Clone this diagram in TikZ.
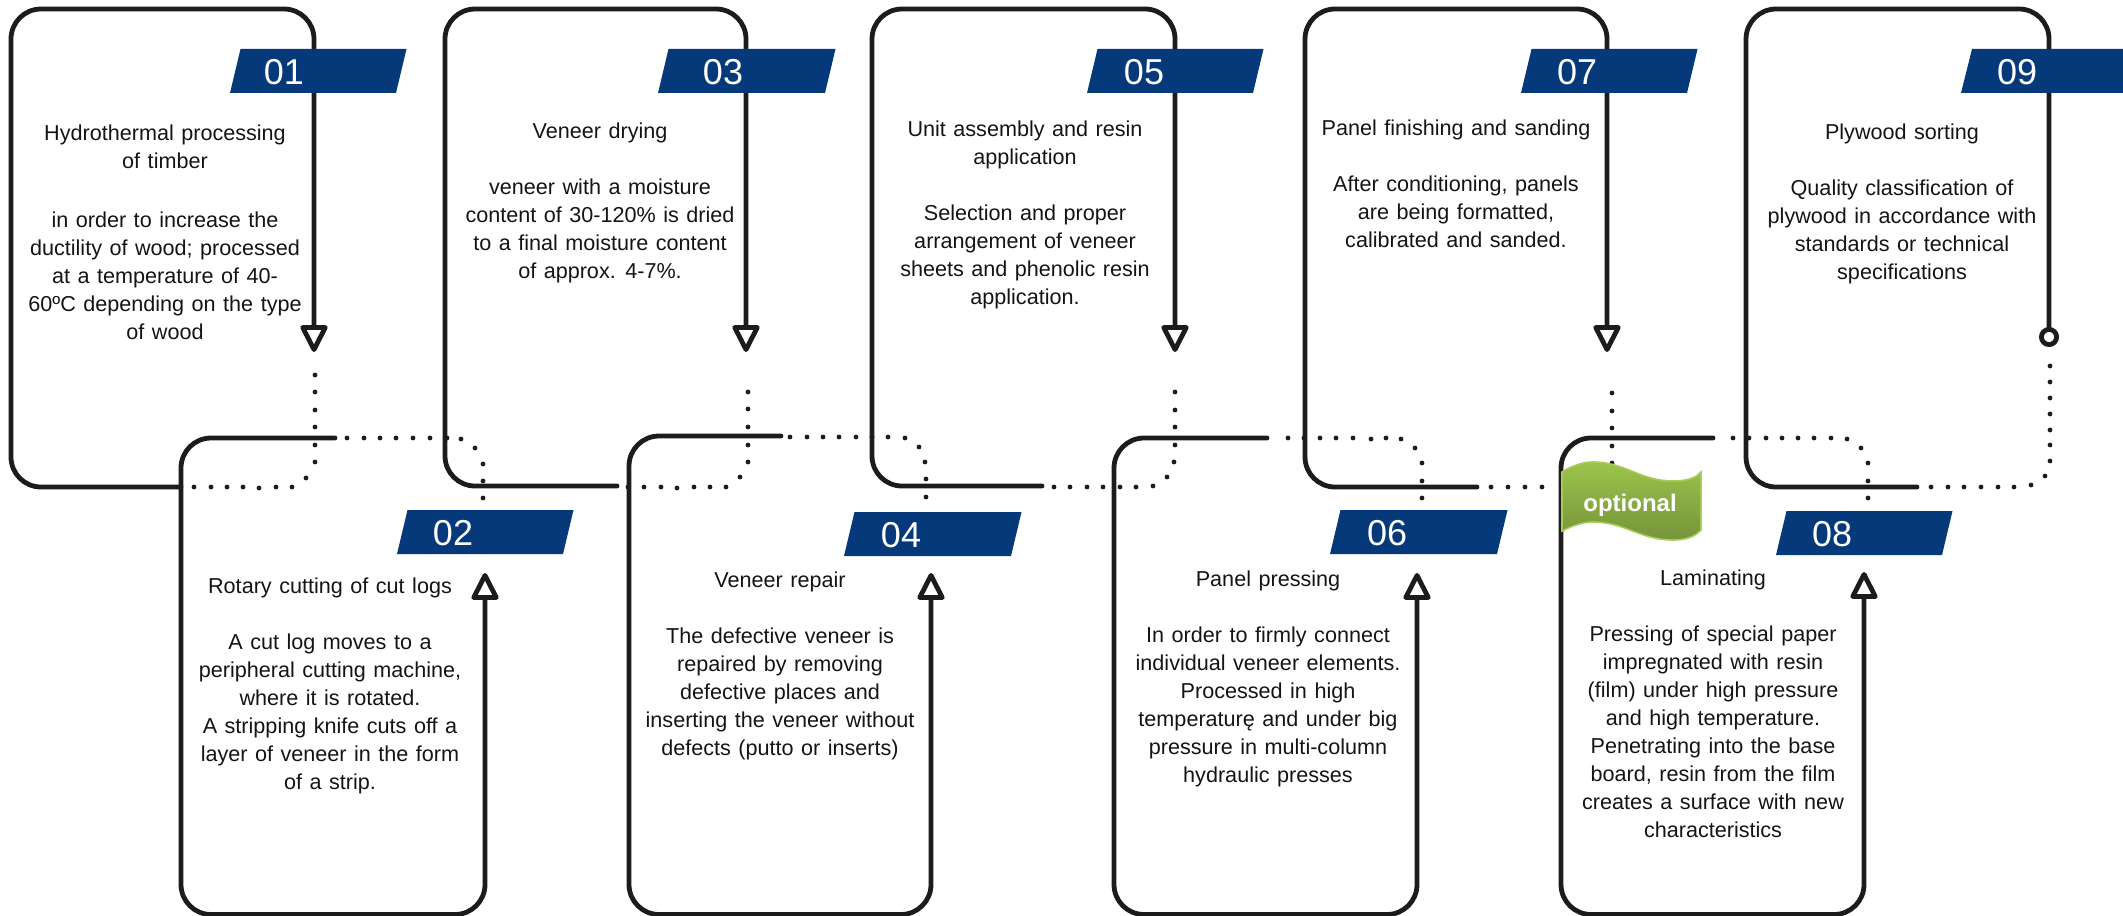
\documentclass[tikz,border=0pt]{standalone}
\usepackage{fontspec}
\setmainfont[WordSpace=1.25]{Liberation Sans}
\usetikzlibrary{arrows.meta}
\definecolor{ink}{HTML}{1C1C1C}
\definecolor{tagblue}{HTML}{06397A}
\definecolor{flagtop}{HTML}{9CC44B}
\definecolor{flagbot}{HTML}{76933A}
\definecolor{flagedge}{HTML}{A6CC58}
\tikzset{
  frame/.style={draw=ink,line width=2.4pt,rounded corners=15pt,line cap=round},
  endstub/.style={frame,-{Triangle[open,round,length=15pt,width=14.5pt]}},
  endring/.style={frame,-{Circle[open,length=10pt,width=10pt]}},
  bodytext/.style={anchor=north,align=center,inner sep=0pt,text=black!92,font=\fontsize{10.8}{14}\selectfont},
  tagnum/.style={text=white,inner sep=0pt,font=\fontsize{18}{20}\selectfont},
  tagfill/.style={fill=tagblue,draw=none},
}
\newcommand{\dotlist}[1]{\foreach \px/\py in {#1}{\fill[ink] (\px,\py) circle[radius=2.4];}}
\newcommand{\ribbon}[5]{% name, bottom-left x, right bottom x, y-top, text x
  \fill[tagfill] (#2,#4+44) -- (#2+10.5,#4) -- (#3+10.5,#4) -- (#3,#4+44) -- cycle;
  \node[tagnum] (#1) at (#5,#4+23) {#1};}
\begin{document}
\begin{tikzpicture}[x=0.5pt,y=-0.5pt]
\useasboundingbox (0,0) rectangle (2123,915);
% dotted links
\dotlist{315/375,315/392,315/410,315/427,315/445,315/462,306/478,292/487,276/487,259/488,243/487,227/487,211/487,194/487}
\dotlist{347/438,364/438,380/438,396/438,413/438,430/438,447/438,461/439,475/448,483/464,483/481,483/498}
\dotlist{748/392,748/409,748/427,748/445,748/462,740/477,726/487,710/487,694/487,677/488,661/487,644/487,628/487}
\dotlist{790/437,807/437,823/437,839/437,856/437,872/437,888/437,905/438,919/447,925/462,926/479,926/497}
\dotlist{1175/392,1175/410,1175/427,1175/445,1174/462,1167/477,1153/486,1136/487,1120/487,1103/487,1087/487,1070/487,1054/487}
\dotlist{1288/438,1304/438,1320/438,1336/438,1353/438,1371/439,1386/438,1401/439,1415/448,1422/463,1422/481,1422/498}
\dotlist{1612/393,1612/411,1612/428,1612/446,1612/463,1491/487,1508/487,1525/487,1542/487}
\dotlist{1733/438,1749/438,1766/438,1782/438,1798/438,1814/438,1831/438,1847/439,1861/448,1868/463,1868/481,1868/498}
\dotlist{2050/366,2050/382,2050/398,2050/414,2050/430,2050/445,2050/461,2045/476,2031/485,2014/487,1998/487,1981/487,1964/487,1948/487,1931/487}
% frames
\coordinate (s1) at (181,487); \coordinate (e1) at (314,352);
\coordinate (s2) at (335,438); \coordinate (e2) at (485,573);
\coordinate (s3) at (617,486); \coordinate (e3) at (746,352);
\coordinate (s4) at (781,436); \coordinate (e4) at (931,573);
\coordinate (s5) at (1042,486); \coordinate (e5) at (1175,352);
\coordinate (s6) at (1267,438); \coordinate (e6) at (1417,573);
\coordinate (s7) at (1477,487); \coordinate (e7) at (1607,352);
\coordinate (s8) at (1713,438); \coordinate (e8) at (1864,572);
\coordinate (s9) at (1917,487); \coordinate (e9) at (2049,347);
\draw[endstub] (s1) -- (11,487) -- (11,9) -- (314,9) -- (e1);
\draw[endstub] (s2) -- (181,438) -- (181,914.5) -- (485,914.5) -- (e2);
\draw[endstub] (s3) -- (445,486) -- (445,9) -- (746,9) -- (e3);
\draw[endstub] (s4) -- (629,436) -- (629,914.5) -- (931,914.5) -- (e4);
\draw[endstub] (s5) -- (872,486) -- (872,9) -- (1175,9) -- (e5);
\draw[endstub] (s6) -- (1114,438) -- (1114,914.5) -- (1417,914.5) -- (e6);
\draw[endstub] (s7) -- (1305,487) -- (1305,9) -- (1607,9) -- (e7);
\draw[endstub] (s8) -- (1561,438) -- (1561,914.5) -- (1864,914.5) -- (e8);
\draw[endring] (s9) -- (1746,487) -- (1746,9) -- (2049,9) -- (e9);
% tags
\ribbon{01}{230}{396}{49}{284}
\ribbon{03}{658}{825}{49}{723}
\ribbon{05}{1087}{1253}{49}{1144}
\ribbon{07}{1521}{1687}{49}{1577}
\fill[tagfill] (1961,93) -- (1972,49) -- (2123,49) -- (2123,93) -- cycle;
\node[tagnum] (09) at (2017,72) {09};
\ribbon{02}{397}{563}{510}{453}
\ribbon{04}{844}{1011}{512}{901}
\ribbon{06}{1330}{1497}{510}{1387}
\ribbon{08}{1776}{1942}{511}{1832}
% optional flag
\path[draw=flagedge,line width=0.8pt,top color=flagtop,bottom color=flagbot]
  (1562,472) .. controls (1572,466) and (1582,462) .. (1593,462)
  .. controls (1625,462) and (1640,481) .. (1673,481)
  .. controls (1685,481) and (1695,479) .. (1701,472)
  -- (1701,530) .. controls (1695,537) and (1685,540) .. (1673,540)
  .. controls (1640,540) and (1625,522) .. (1593,522)
  .. controls (1582,522) and (1572,526) .. (1562,531) -- cycle;
\node[text=white,inner sep=0pt,font=\fontsize{12}{14}\bfseries\selectfont] (opt) at (1630,505) {optional};
% texts
\node[bodytext] (t1) at (165,120) {\strut Hydrothermal processing\\of timber\\[15.5pt]in order to increase the\\ductility of wood; processed\\at a temperature of 40-\\60ºC depending on the type\\of wood};
\node[bodytext] (t2) at (330,573.5) {\strut Rotary cutting of cut logs\\[14pt]A cut log moves to a\\peripheral cutting machine,\\where it is rotated.\\A stripping knife cuts off a\\layer of veneer in the form\\of a strip.};
\node[bodytext] (t3) at (600,118) {\strut Veneer drying\\[14pt]veneer with a moisture\\content of 30-120\% is dried\\to a final moisture content\\of approx. 4-7\%.};
\node[bodytext] (t4) at (780,567.5) {\strut Veneer repair\\[14pt]The defective veneer is\\repaired by removing\\defective places and\\inserting the veneer without\\defects (putto or inserts)};
\node[bodytext] (t5) at (1025,116.5) {\strut Unit assembly and resin\\application\\[14pt]Selection and proper\\arrangement of veneer\\sheets and phenolic resin\\application.};
\node[bodytext] (t6) at (1268,566.5) {\strut Panel pressing\\[14pt]In order to firmly connect\\individual veneer elements.\\Processed in high\\temperaturę and under big\\pressure in multi-column\\hydraulic presses};
\node[bodytext] (t7) at (1456,115.5) {\strut Panel finishing and sanding\\[14pt]After conditioning, panels\\are being formatted,\\calibrated and sanded.};
\node[bodytext] (t8) at (1713,565.5) {\strut Laminating\\[14pt]Pressing of special paper\\impregnated with resin\\(film) under high pressure\\and high temperature.\\Penetrating into the base\\board, resin from the film\\creates a surface with new\\characteristics};
\node[bodytext] (t9) at (1902,119.5) {\strut Plywood sorting\\[14pt]Quality classification of\\plywood in accordance with\\standards or technical\\specifications};
\end{tikzpicture}
\end{document}
